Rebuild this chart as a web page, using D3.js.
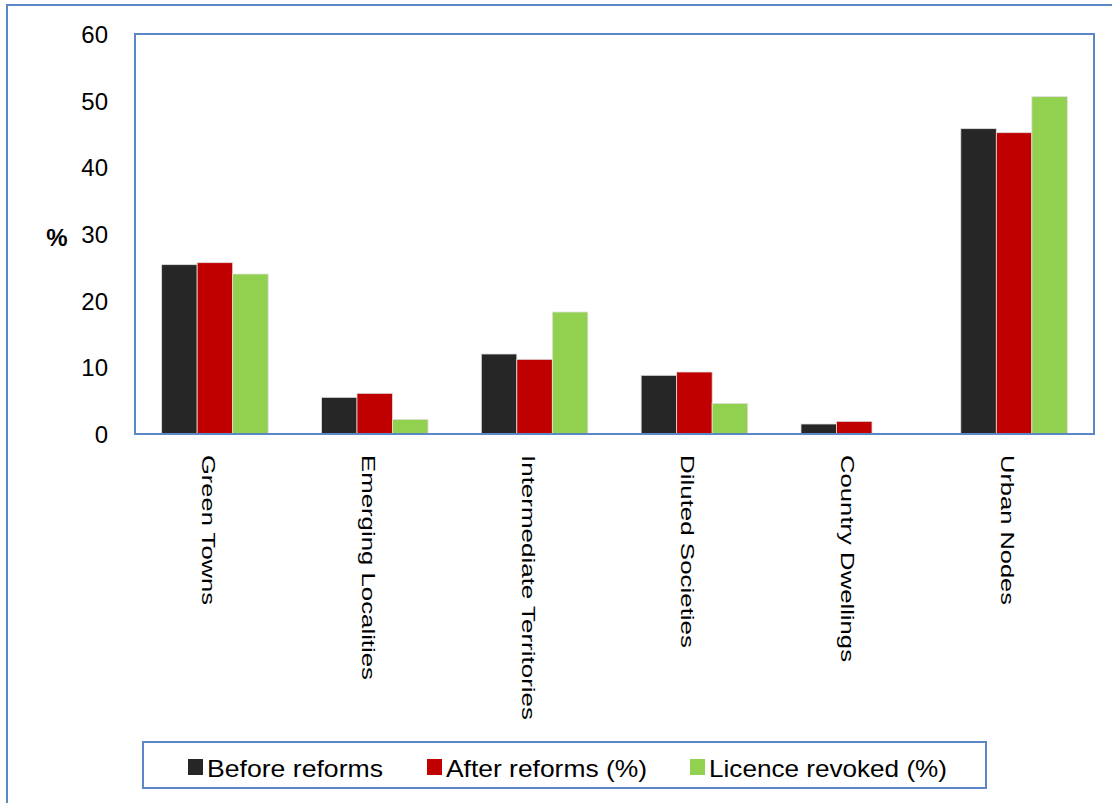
<!DOCTYPE html>
<html>
<head>
<meta charset="utf-8">
<script src="https://cdn.jsdelivr.net/npm/d3@7"></script>
<style>
  html, body { margin: 0; padding: 0; background: #ffffff; }
  svg { display: block; }
  text { font-family: Arial, "Liberation Sans", sans-serif; fill: #000; }
</style>
</head>
<body>
<svg id="chart" width="1112" height="803"></svg>
<script>
const categories = ["Green Towns", "Emerging Localities", "Intermediate Territories", "Diluted Societies", "Country Dwellings", "Urban Nodes"];
const seriesNames = ["Before reforms", "After reforms (%)", "Licence revoked (%)"];
const beforeReforms = [25.4, 5.5, 12.0, 8.8, 1.5, 45.8];
const afterReforms = [25.7, 6.1, 11.2, 9.3, 1.9, 45.2];
const licenceRevoked = [24.0, 2.2, 18.3, 4.6, 0, 50.6];
const yTicks = [0, 10, 20, 30, 40, 50, 60];
const seriesColors = ["#262626", "#C00000", "#92D050"];

const seriesValues = [beforeReforms, afterReforms, licenceRevoked];
const svg = d3.select("#chart");
const borderColor = "#5B87C6";

// outer frame
svg.append("rect").attr("x", 7).attr("y", 5).attr("width", 1120).attr("height", 820)
  .attr("fill", "none").attr("stroke", borderColor).attr("stroke-width", 2);

const plot = { left: 135, right: 1094, top: 34, bottom: 434 };

const x0 = d3.scaleBand().domain(categories).range([plot.left, plot.right]).paddingInner(0).paddingOuter(0);
const x1 = d3.scaleBand().domain(seriesNames).range([0, x0.bandwidth()]).paddingInner(0).paddingOuter(0.75);
const y = d3.scaleLinear().domain([0, 60]).range([plot.bottom, plot.top]);

// bars
seriesNames.forEach((s, si) => {
  svg.append("g").selectAll("rect")
    .data(categories.map((c, ci) => ({ c, v: seriesValues[si][ci] })))
    .join("rect")
    .attr("x", d => x0(d.c) + x1(s))
    .attr("y", d => y(d.v))
    .attr("width", x1.bandwidth())
    .attr("height", d => plot.bottom - y(d.v))
    .attr("fill", seriesColors[si])
    .attr("stroke", d => d.v > 0 ? "#e0e0e0" : "none")
    .attr("stroke-width", 0.8);
});

// plot frame
svg.append("rect").attr("x", plot.left).attr("y", plot.top)
  .attr("width", plot.right - plot.left).attr("height", plot.bottom - plot.top)
  .attr("fill", "none").attr("stroke", borderColor).attr("stroke-width", 2);

// y axis labels
const yAxis = d3.axisLeft(y).tickValues(yTicks).tickSize(0).tickPadding(27);
const gy = svg.append("g").attr("transform", `translate(${plot.left},0)`).call(yAxis);
gy.select(".domain").remove();
gy.selectAll("text").attr("font-size", 24).attr("font-family", "Arial, 'Liberation Sans', sans-serif").attr("dy", "0.36em");

svg.append("text").attr("x", 57).attr("y", 246).attr("text-anchor", "middle")
  .attr("font-size", 24).attr("font-weight", "bold").text("%");

// x labels (rotated)
const labelLen = [150, 225, 265, 193, 207, 150];
const gx = svg.append("g");
categories.forEach((c, i) => {
  const cx = x0(c) + x0.bandwidth() / 2;
  gx.append("text")
    .attr("transform", `translate(${cx - 13},${455}) rotate(90) scale(1,0.78)`)
    .attr("font-size", 24)
    .attr("textLength", labelLen[i])
    .attr("lengthAdjust", "spacingAndGlyphs")
    .text(c);
});

// legend
const legend = svg.append("g");
legend.append("rect").attr("x", 143).attr("y", 742).attr("width", 843).attr("height", 46)
  .attr("fill", "none").attr("stroke", borderColor).attr("stroke-width", 2);
const legX = [188, 427, 690];
const legTextLen = [176, 201, 238];
seriesNames.forEach((s, i) => {
  legend.append("rect").attr("x", legX[i]).attr("y", 759).attr("width", 15).attr("height", 16)
    .attr("fill", seriesColors[i]);
  legend.append("text").attr("x", legX[i] + 19).attr("y", 777)
    .attr("font-size", 24).attr("textLength", legTextLen[i]).attr("lengthAdjust", "spacingAndGlyphs")
    .text(s);
});
</script>
</body>
</html>
